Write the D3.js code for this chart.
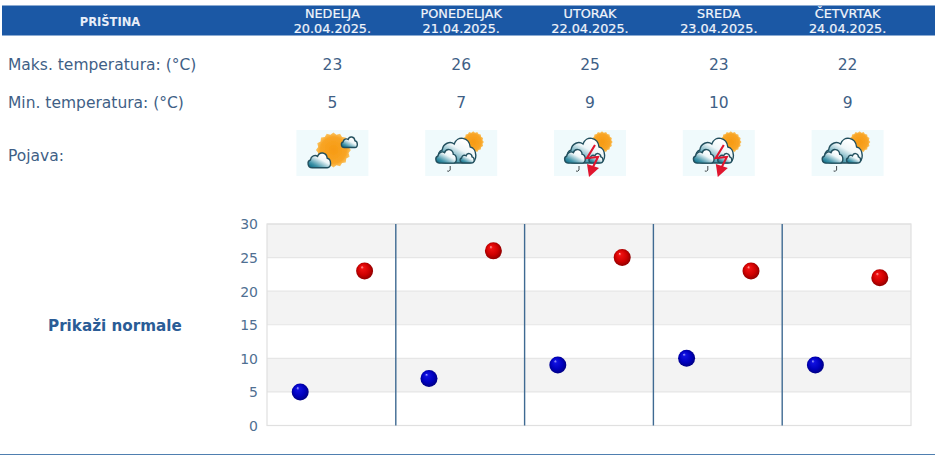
<!DOCTYPE html>
<html>
<head>
<meta charset="utf-8">
<script src="https://cdn.jsdelivr.net/npm/d3@7"></script>
<style>
  html, body { margin: 0; padding: 0; background: #fff; overflow: hidden; }
  text { font-family: "DejaVu Sans", sans-serif; fill: #3f5f86; }
</style>
</head>
<body>
<svg id="chart" width="940" height="455"></svg>
<script>
const city = 'PRIŠTINA'
const days = ['NEDELJA', 'PONEDELJAK', 'UTORAK', 'SREDA', 'ČETVRTAK']
const dates = ['20.04.2025.', '21.04.2025.', '22.04.2025.', '23.04.2025.', '24.04.2025.']
const maxTemps = [23, 26, 25, 23, 22]
const minTemps = [5, 7, 9, 10, 9]
const icons = ['sunny', 'shower', 'storm', 'storm', 'shower']
const yTicks = [0, 5, 10, 15, 20, 25, 30]

const svg = d3.select('#chart')
const defs = svg.append('defs')

function ballGradient (id, stops) {
  const g = defs.append('radialGradient').attr('id', id)
    .attr('cx', '50%').attr('cy', '50%').attr('r', '58%')
    .attr('fx', '34%').attr('fy', '26%')
  stops.forEach(s => g.append('stop').attr('offset', s[0]).attr('stop-color', s[1]))
}
ballGradient('ballRed', [[0, '#ffb0b0'], [0.16, '#f01010'], [0.6, '#cc0000'], [1, '#7a0000']])
ballGradient('ballBlue', [[0, '#b0b0ff'], [0.16, '#1010e0'], [0.6, '#0000bc'], [1, '#000070']])

const cloudGrad = defs.append('linearGradient').attr('id', 'cloudGrad')
  .attr('x1', 0.05).attr('y1', 0.95).attr('x2', 0.7).attr('y2', 0.15)
cloudGrad.append('stop').attr('offset', 0).attr('stop-color', '#0b6a84')
cloudGrad.append('stop').attr('offset', 0.25).attr('stop-color', '#3f93a8')
cloudGrad.append('stop').attr('offset', 0.7).attr('stop-color', '#eef6f8')
cloudGrad.append('stop').attr('offset', 1).attr('stop-color', '#ffffff')

const sunGrad = defs.append('radialGradient').attr('id', 'sunGrad')
sunGrad.append('stop').attr('offset', 0).attr('stop-color', '#f79a12')
sunGrad.append('stop').attr('offset', 0.75).attr('stop-color', '#f8a526')
sunGrad.append('stop').attr('offset', 1).attr('stop-color', '#fbc768')

const soft = defs.append('filter').attr('id', 'soft')
soft.append('feGaussianBlur').attr('stdDeviation', 0.4)

// header bar
svg.append('rect').attr('x', 2).attr('y', 5.5).attr('width', 933).attr('height', 30).attr('fill', '#1b58a5')
svg.append('text').attr('x', 110).attr('y', 25.5).attr('text-anchor', 'middle')
  .attr('font-size', 11.5).attr('font-weight', 'bold').style('fill', '#e8eef8').text(city)

const plot = { left: 267, right: 911, top: 224, bottom: 425.5 }
const x = d3.scaleBand().domain(d3.range(days.length)).range([plot.left, plot.right])
const y = d3.scaleLinear().domain([0, 30]).range([plot.bottom, plot.top])
const colX = i => x(i) + x.bandwidth() / 2 + 1

const head = svg.append('g').selectAll('g').data(days).enter().append('g')
  .style('stroke', '#f2f5fb').style('stroke-width', 0.2)
head.append('text').attr('x', (d, i) => colX(i)).attr('y', 18).attr('text-anchor', 'middle')
  .attr('font-size', 12.8).style('fill', '#f2f5fb').text(d => d)
head.append('text').attr('x', (d, i) => colX(i)).attr('y', 33).attr('text-anchor', 'middle')
  .attr('font-size', 12.8).style('fill', '#f2f5fb').text((d, i) => dates[i])

// rows
svg.append('text').attr('x', 8).attr('y', 69.5).attr('font-size', 15.5).text('Maks. temperatura: (°C)')
svg.append('text').attr('x', 8).attr('y', 107.5).attr('font-size', 15.5).text('Min. temperatura: (°C)')
svg.append('text').attr('x', 8).attr('y', 160.5).attr('font-size', 15.5).text('Pojava:')

svg.append('g').selectAll('text').data(maxTemps).enter().append('text')
  .attr('x', (d, i) => colX(i)).attr('y', 70).attr('text-anchor', 'middle').attr('font-size', 15.5).text(d => d)
svg.append('g').selectAll('text').data(minTemps).enter().append('text')
  .attr('x', (d, i) => colX(i)).attr('y', 108).attr('text-anchor', 'middle').attr('font-size', 15.5).text(d => d)

// weather icons
const CLOUD = 'M8 28C0 28 -1 17 5 15C6 8 13 6 17 9C20 0 32 2 33 12C40 13 41 28 33 28Z'

function cloud (g, cx, cy, w) {
  const k = w / 40
  g.append('path').attr('d', CLOUD)
    .attr('transform', `translate(${cx - w / 2},${cy - 15 * k}) scale(${k})`)
    .attr('fill', 'url(#cloudGrad)').attr('stroke', '#23505e').attr('stroke-width', 1.4 / k)
}

function sun (g, cx, cy, r) {
  const spikes = d3.range(32).map(i => {
    const rr = i % 2 ? r : r * 1.13
    const a = i * Math.PI / 16
    return [cx + rr * Math.cos(a), cy + rr * Math.sin(a)]
  })
  g.append('path').attr('d', d3.line()(spikes) + 'Z').attr('fill', 'url(#sunGrad)')
}

function drop (g, cx, cy) {
  g.append('path').attr('d', `M${cx + 1} ${cy - 3}L${cx + 1} ${cy + 1}Q${cx} ${cy + 3} ${cx - 2} ${cy + 2}`)
    .attr('fill', 'none').attr('stroke', '#40484c').attr('stroke-width', 1)
}

function bolt (g, ox, oy) {
  const pts = [[ox, oy], [ox - 8, oy + 13], [ox + 3, oy + 12], [ox - 2, oy + 22]]
  g.append('path').attr('d', d3.line()(pts)).attr('fill', 'none').attr('stroke', '#e0122e').attr('stroke-width', 2.1)
  g.append('path').attr('d', `M${ox - 8} ${oy + 19}L${ox + 4} ${oy + 23}L${ox - 6} ${oy + 32}Z`).attr('fill', '#e0122e')
}

const iconW = 72
const iconH = 46
const iconG = svg.append('g').selectAll('g').data(icons).enter().append('g')
  .attr('transform', (d, i) => `translate(${colX(i) - iconW / 2},130)`)
  .attr('filter', 'url(#soft)')
iconG.append('rect').attr('width', iconW).attr('height', iconH).attr('fill', '#f0fafc')
iconG.each(function (kind) {
  const g = d3.select(this)
  if (kind === 'sunny') {
    sun(g, 37, 20, 15.5)
    cloud(g, 53, 12, 17)
    cloud(g, 23, 30, 24)
  } else {
    sun(g, 48, 12, 9.5)
    cloud(g, 32, 20, 40)
    cloud(g, 21, 26, 22)
    cloud(g, 42, 28, 15)
    drop(g, 24, 39)
    if (kind === 'storm') bolt(g, 41, 15)
  }
})

// side label
svg.append('text').attr('x', 48).attr('y', 331).attr('font-size', 15.2).attr('font-weight', 'bold')
  .style('fill', '#2a5c96').text('Prikaži normale')

// plot background stripes, top one grey
const stripes = yTicks.filter(t => t % 10 === 0 && t < 30)
svg.append('g').selectAll('rect').data(stripes).enter().append('rect')
  .attr('x', plot.left).attr('width', plot.right - plot.left)
  .attr('y', d => y(d + 10)).attr('height', d => y(d + 5) - y(d + 10))
  .attr('fill', '#f3f3f3')

svg.append('g').selectAll('line').data(yTicks).enter().append('line')
  .attr('x1', plot.left).attr('x2', plot.right).attr('y1', d => y(d)).attr('y2', d => y(d))
  .attr('stroke', '#e6e6e6').attr('stroke-width', 1.2)
svg.append('rect').attr('x', plot.left).attr('y', plot.top)
  .attr('width', plot.right - plot.left).attr('height', plot.bottom - plot.top)
  .attr('fill', 'none').attr('stroke', '#e0e0e0').attr('stroke-width', 1.2)

svg.append('g').selectAll('line').data(d3.range(1, days.length)).enter().append('line')
  .attr('x1', d => x(d)).attr('x2', d => x(d)).attr('y1', plot.top).attr('y2', plot.bottom)
  .attr('stroke', '#3f6a92').attr('stroke-width', 1.4)

const axis = svg.append('g').attr('transform', `translate(${plot.left},0.5)`)
  .call(d3.axisLeft(y).tickValues(yTicks).tickSize(0).tickPadding(9))
axis.select('.domain').remove()
axis.selectAll('text').attr('font-size', 14).style('font-family', '"DejaVu Sans", sans-serif').style('fill', '#4f6f92')

// points
svg.append('g').attr('transform', 'translate(1,0)').selectAll('circle').data(minTemps).enter().append('circle')
  .attr('cx', (d, i) => x(i) + x.bandwidth() / 4).attr('cy', d => y(d)).attr('r', 8.5)
  .attr('fill', 'url(#ballBlue)')
svg.append('g').attr('transform', 'translate(1,0)').selectAll('circle').data(maxTemps).enter().append('circle')
  .attr('cx', (d, i) => x(i) + x.bandwidth() * 3 / 4).attr('cy', d => y(d)).attr('r', 8.5)
  .attr('fill', 'url(#ballRed)')

// bottom rule
svg.append('line').attr('x1', 0).attr('x2', 935).attr('y1', 454.5).attr('y2', 454.5)
  .attr('stroke', '#4f7fb0').attr('stroke-width', 1.2)
</script>
</body>
</html>
